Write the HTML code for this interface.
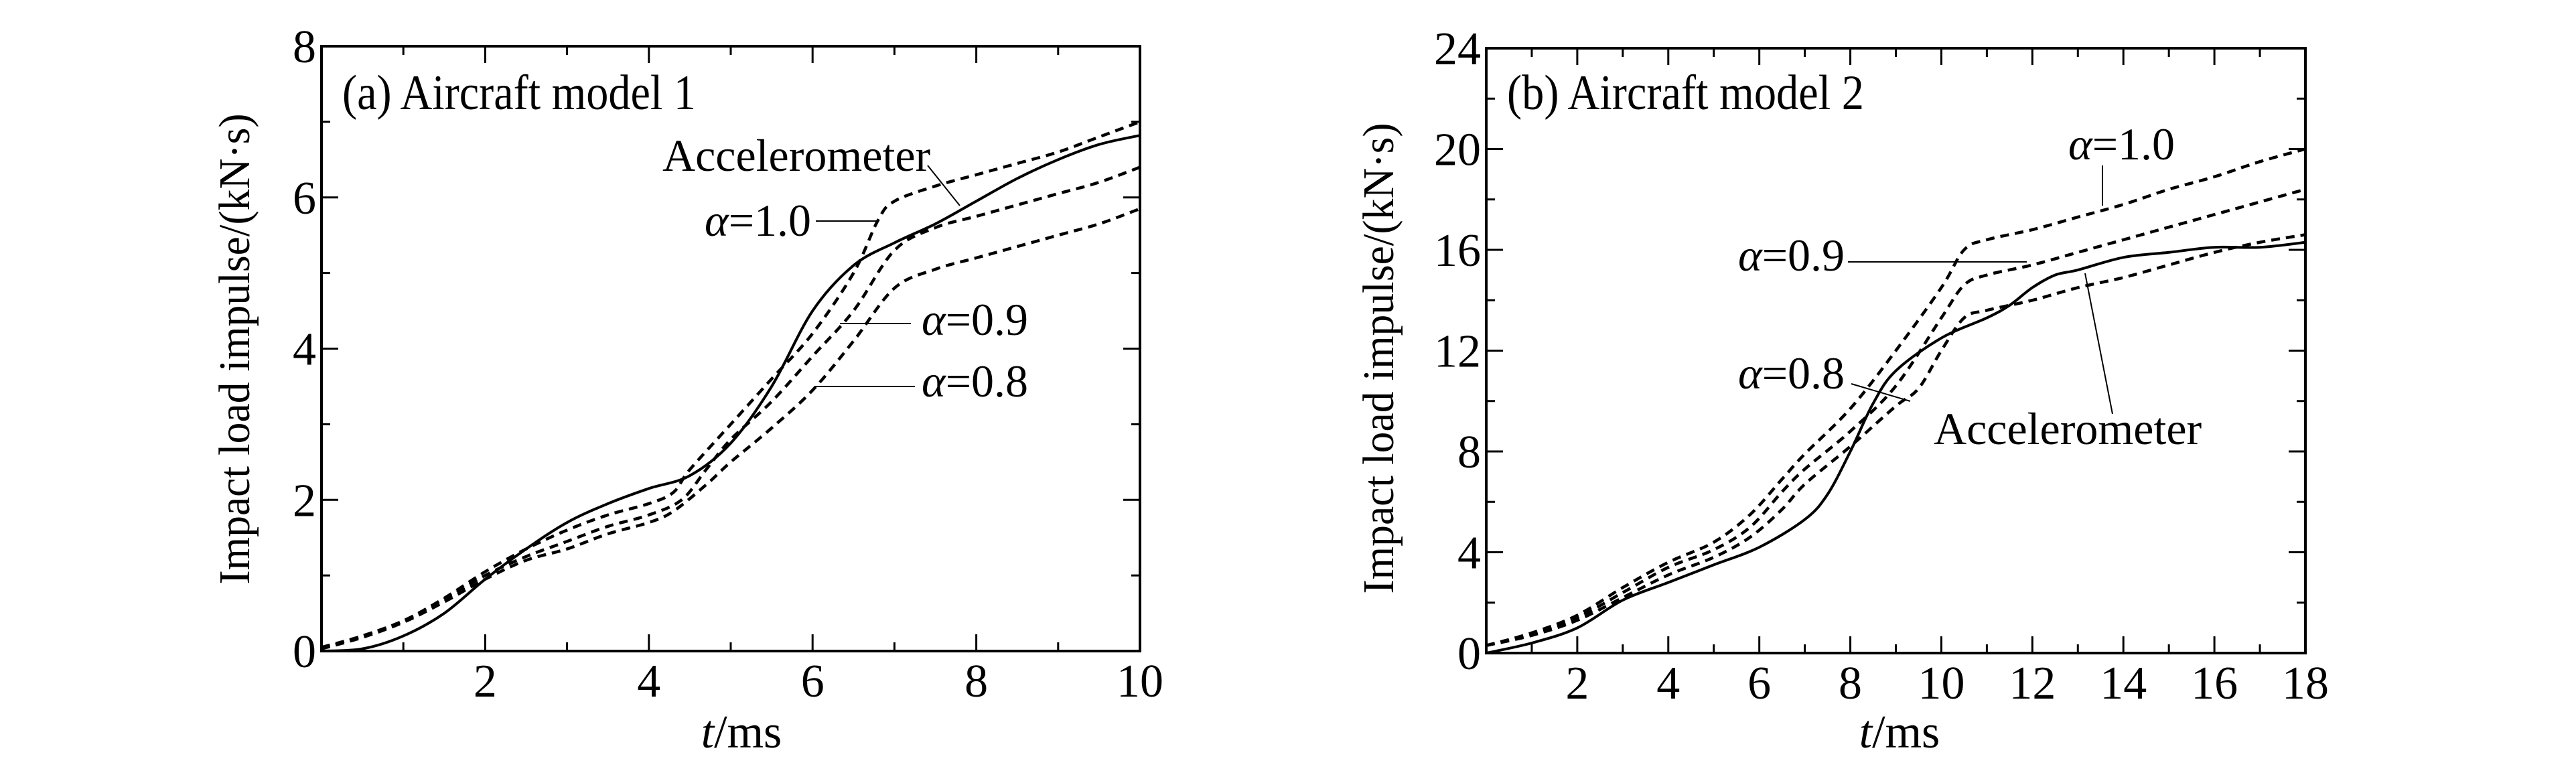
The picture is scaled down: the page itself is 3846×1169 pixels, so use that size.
<!DOCTYPE html>
<html><head><meta charset="utf-8"><style>
html,body{margin:0;padding:0;background:#fff}
svg{display:block}
svg text{font-family:"Liberation Serif","DejaVu Serif",serif;fill:#000}
</style></head><body>
<svg id="fig" width="3846" height="1169" viewBox="0 0 3846 1169" xmlns="http://www.w3.org/2000/svg" font-family="'Liberation Serif', 'DejaVu Serif', serif"></svg>
<script>
// Panel (a) data
const aX = [0,0.5,1,1.5,2,2.5,3,3.5,4,4.5,5,5.5,6,6.5,7,7.5,8,8.5,9,9.5,10];
const aAcc = [0,0.03,0.2,0.5,0.95,1.35,1.7,1.95,2.15,2.32,2.75,3.5,4.5,5.1,5.4,5.65,5.95,6.25,6.5,6.7,6.82];
const aA10X = [0,0.5,1,1.5,2,2.5,3,3.5,4,4.3,4.5,5,5.5,6,6.5,6.8,7,7.5,8,8.5,9,9.5,10];
const aA10 = [0.05,0.2,0.4,0.7,1.05,1.35,1.6,1.8,1.95,2.1,2.4,3.0,3.6,4.2,5.0,5.7,5.95,6.15,6.3,6.45,6.6,6.8,7.0];
const aA09X = [0,0.5,1,1.5,2,2.5,3,3.5,4,4.4,4.7,5,5.5,6,6.5,7,7.5,8,8.5,9,9.5,10];
const aA09 = [0.03,0.2,0.4,0.68,1.0,1.25,1.45,1.65,1.8,2.0,2.4,2.8,3.3,3.9,4.5,5.3,5.6,5.75,5.9,6.05,6.2,6.4];
const aA08X = [0,0.5,1,1.5,2,2.5,3,3.5,4,4.3,4.7,5,5.5,6,6.5,7,7.5,8,8.5,9,9.5,10];
const aA08 = [0.03,0.18,0.38,0.65,0.95,1.2,1.35,1.55,1.7,1.85,2.2,2.5,2.95,3.45,4.1,4.8,5.05,5.2,5.35,5.5,5.65,5.85];
const aXTicks = [2,4,6,8,10];
const aYTicks = [0,2,4,6,8];
// Panel (b) data
const bAccX = [0,1,2,3,4,5,6,7,7.5,8,8.5,9,10,11,11.5,12,12.5,13,14,15,16,17,18];
const bAcc = [0,0.4,1.0,2.1,2.8,3.5,4.2,5.3,6.3,8.0,9.9,11.2,12.5,13.3,13.8,14.5,15.0,15.2,15.7,15.9,16.1,16.1,16.3];
const bAX = [0,1,2,3,4,5,5.8,6.5,7,8,9,10,10.5,11,12,13,14,15,16,17,18];
const bA10 = [0.3,0.8,1.5,2.6,3.6,4.4,5.5,6.9,7.9,9.7,12.0,14.5,16.0,16.4,16.8,17.3,17.8,18.4,18.9,19.5,20.0];
const bA09 = [0.3,0.75,1.4,2.4,3.4,4.1,5.0,6.4,7.3,8.8,10.6,13.3,14.6,15.0,15.4,15.9,16.4,16.9,17.4,17.9,18.4];
const bA08X = [0,1,2,3,4,5,5.8,6.5,7,8,9,9.5,10,10.5,11,12,13,14,15,16,17,18];
const bA08 = [0.3,0.7,1.3,2.2,3.1,3.8,4.6,5.7,6.7,8.2,9.8,10.5,12.0,13.3,13.6,14.0,14.5,14.9,15.4,15.9,16.3,16.6];
const bXTicks = [2,4,6,8,10,12,14,16,18];
const bYTicks = [0,4,8,12,16,20,24];

const NS="http://www.w3.org/2000/svg";
const FONT="'Liberation Serif', 'DejaVu Serif', serif";
const svg=document.getElementById('fig');
function el(tag,attrs,parent,txt){const e=document.createElementNS(NS,tag);for(const k in attrs)e.setAttribute(k,attrs[k]);if(tag==='text')e.setAttribute('font-family',FONT);if(txt!==undefined)e.textContent=txt;(parent||svg).appendChild(e);return e;}

function smoothPath(pts){
  let d='M'+pts[0][0].toFixed(1)+','+pts[0][1].toFixed(1);
  for(let i=0;i<pts.length-1;i++){
    const p0=pts[Math.max(0,i-1)],p1=pts[i],p2=pts[i+1],p3=pts[Math.min(pts.length-1,i+2)];
    const c1=[p1[0]+(p2[0]-p0[0])/6,p1[1]+(p2[1]-p0[1])/6];
    const c2=[p2[0]-(p3[0]-p1[0])/6,p2[1]-(p3[1]-p1[1])/6];
    d+=' C'+c1[0].toFixed(1)+','+c1[1].toFixed(1)+' '+c2[0].toFixed(1)+','+c2[1].toFixed(1)+' '+p2[0].toFixed(1)+','+p2[1].toFixed(1);
  }
  return d;
}

function panel(cfg){
  const g=el('g',{});
  
  
  const X=v=>cfg.L+(v-cfg.x0)/(cfg.x1-cfg.x0)*(cfg.R-cfg.L);
  const Y=v=>cfg.B-(v-cfg.y0)/(cfg.y1-cfg.y0)*(cfg.B-cfg.T);
  const frame=el('rect',{x:cfg.L,y:cfg.T,width:cfg.R-cfg.L,height:cfg.B-cfg.T,fill:'none',stroke:'#000','stroke-width':4},g);
  
  
  for(let v=cfg.x0+cfg.xMinor;v<cfg.x1-1e-6;v+=cfg.xMinor){
    const major=cfg.xTicks.some(t=>Math.abs(t-v)<1e-6);
    const len=major?25:13;
    el('line',{x1:X(v),x2:X(v),y1:cfg.B,y2:cfg.B-len,stroke:'#000','stroke-width':3},g);
    el('line',{x1:X(v),x2:X(v),y1:cfg.T,y2:cfg.T+len,stroke:'#000','stroke-width':3},g);
  }
  for(let v=cfg.y0+cfg.yMinor;v<cfg.y1-1e-6;v+=cfg.yMinor){
    const major=cfg.yTicks.some(t=>Math.abs(t-v)<1e-6);
    const len=major?25:13;
    el('line',{x1:cfg.L,x2:cfg.L+len,y1:Y(v),y2:Y(v),stroke:'#000','stroke-width':3},g);
    el('line',{x1:cfg.R,x2:cfg.R-len,y1:Y(v),y2:Y(v),stroke:'#000','stroke-width':3},g);
  }
  cfg.xTicks.forEach(t=>{
    const tx=el('text',{x:X(t),y:cfg.B+68,'font-size':70,'text-anchor':'middle'},g,String(t));
    
    
  });
  cfg.yTicks.forEach(t=>{
    const tx=el('text',{x:cfg.L-8,y:Y(t)+24,'font-size':70,'text-anchor':'end'},g,String(t));
    
    
  });
  const xt=el('text',{x:cfg.xtX,y:1116,'font-size':70,'text-anchor':'middle'},g);
  
  
  el('tspan',{'font-style':'italic'},xt,'t');
  el('tspan',{},xt,'/ms');
  const yt=el('text',{x:0,y:0,'font-size':66,'text-anchor':'middle',textLength:703,lengthAdjust:'spacingAndGlyphs',transform:'translate('+cfg.ytX+','+cfg.ytY+') rotate(-90)'},g,'Impact load impulse/(kN\u00b7s)');
  
  
  const pt=el('text',{x:cfg.L+31,y:163,'font-size':74,textLength:cfg.titleLen,lengthAdjust:'spacingAndGlyphs'},g,cfg.title);
  
  
  cfg.series.forEach(s=>{
    const pts=s.xs.map((x,i)=>[X(x),Y(s.ys[i])]);
    const p=el('path',{d:smoothPath(pts),fill:'none',stroke:'#000','stroke-width':s.dash?4.5:4,'stroke-dasharray':s.dash?'13 9':'none'},g);
    
    
  });
  cfg.notes.forEach(n=>{
    const t=el('text',{x:n.x,y:n.y,'font-size':68},g);
    
    
    if(n.alpha){el('tspan',{'font-style':'italic'},t,'\u03b1');el('tspan',{},t,'='+n.txt);}
    else t.textContent=n.txt;
    const l=el('line',{x1:n.l[0],y1:n.l[1],x2:n.l[2],y2:n.l[3],stroke:'#000','stroke-width':2},g);
    
    
  });
}

panel({name:'panel-a',L:480,R:1702,T:69,B:972,x0:0,x1:10,y0:0,y1:8,xMinor:1,yMinor:1,
  xTicks:aXTicks,yTicks:aYTicks,xtX:1107,ytX:372,ytY:521,title:'(a) Aircraft model 1',titleLen:528,
  series:[{name:'accelerometer-line',xs:aX,ys:aAcc},{name:'alpha-1.0-line',xs:aA10X,ys:aA10,dash:1},
          {name:'alpha-0.9-line',xs:aA09X,ys:aA09,dash:1},{name:'alpha-0.8-line',xs:aA08X,ys:aA08,dash:1}],
  notes:[{name:'accelerometer-label',x:989,y:255,txt:'Accelerometer',l:[1385,247,1433,307]},
         {name:'alpha-1.0-label',x:1052,y:352,txt:'1.0',alpha:1,l:[1218,330,1312,330]},
         {name:'alpha-0.9-label',x:1376,y:500,txt:'0.9',alpha:1,l:[1254,483,1360,483]},
         {name:'alpha-0.8-label',x:1376,y:592,txt:'0.8',alpha:1,l:[1216,577,1366,577]}]});

panel({name:'panel-b',L:2219,R:3442,T:72,B:975,x0:0,x1:18,y0:0,y1:24,xMinor:1,yMinor:2,
  xTicks:bXTicks,yTicks:bYTicks,xtX:2836,ytX:2080,ytY:535,title:'(b) Aircraft model 2',titleLen:533,
  series:[{name:'accelerometer-line',xs:bAccX,ys:bAcc},{name:'alpha-1.0-line',xs:bAX,ys:bA10,dash:1},
          {name:'alpha-0.9-line',xs:bAX,ys:bA09,dash:1},{name:'alpha-0.8-line',xs:bA08X,ys:bA08,dash:1}],
  notes:[{name:'alpha-1.0-label',x:3088,y:238,txt:'1.0',alpha:1,l:[3139,247,3139,307]},
         {name:'alpha-0.9-label',x:2595,y:404,txt:'0.9',alpha:1,l:[2759,391,3026,391]},
         {name:'alpha-0.8-label',x:2595,y:580,txt:'0.8',alpha:1,l:[2764,573,2852,599]},
         {name:'accelerometer-label',x:2887,y:663,txt:'Accelerometer',l:[3113,408,3154,618]}]});
</script>
</body></html>
